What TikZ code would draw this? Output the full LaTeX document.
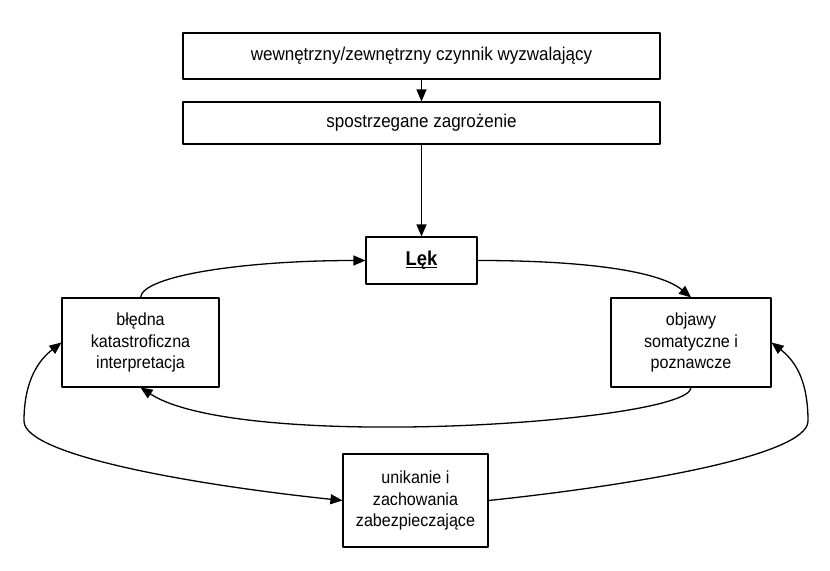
\documentclass[tikz,border=0pt]{standalone}
\usepackage{fontspec}
\setmainfont[FakeStretch=0.92]{Liberation Sans}
\usetikzlibrary{arrows.meta}

\begin{document}
\begin{tikzpicture}[line cap=round,line join=round,>={Triangle[length=12bp,width=10bp]},x=1bp,y=1bp,
  blok/.style={draw,line width=1.1bp,align=center,inner sep=0pt,font=\fontsize{17.5bp}{21.5bp}\selectfont},
  strz/.style={line width=1.3bp}]
\useasboundingbox (0,0) rectangle (830,571);
\node[blok,minimum width=477bp,minimum height=46bp,font=\fontsize{18.5bp}{22bp}\selectfont] (trig) at (421.5,515) {wewnętrzny/zewnętrzny czynnik wyzwalający};
\node[blok,minimum width=477bp,minimum height=42bp,font=\fontsize{18.5bp}{22bp}\selectfont] (threat) at (421.5,448) {spostrzegane zagrożenie};
\node[blok,minimum width=111bp,minimum height=47bp,font=\fontsize{20bp}{22bp}\selectfont] (fear) at (421.5,310.5) {\underline{\smash{\textbf{Lęk}}}\vphantom{\textbf{Lęk}}};
\node[blok,minimum width=157bp,minimum height=89bp] (interp) at (140.5,228.5) {błędna\\katastroficzna\\interpretacja};
\node[blok,minimum width=160bp,minimum height=89bp] (symp) at (691,228.5) {objawy\\somatyczne i\\poznawcze};
\node[blok,minimum width=145bp,minimum height=93bp] (avoid) at (415.5,70.5) {unikanie i\\zachowania\\zabezpieczające};
\coordinate (lturn) at (24,150);
\coordinate (rturn) at (808,150);
\draw[strz,->] (trig) -- (threat);
\draw[strz,->] (threat) -- (fear);
\draw[strz,->] (interp.north) .. controls +(2,22) and +(-120,0) .. (fear.west);
\draw[strz,->] (fear.east) .. controls +(110,0) and +(-31,26) .. (symp.north);
\draw[strz,->] (symp.south) .. controls +(0,-35) and +(100,-65) .. (interp.south);
\draw[strz,<->] (interp.west) .. controls +(-27,-21) and +(0,34) .. (lturn) .. controls +(0,-35) and +(-143,15) .. (avoid.west);
\draw[strz,->] (avoid.east) .. controls +(143,15) and +(0,-35) .. (rturn) .. controls +(0,35) and +(27,-21) .. (symp.east);
\end{tikzpicture}
\end{document}
